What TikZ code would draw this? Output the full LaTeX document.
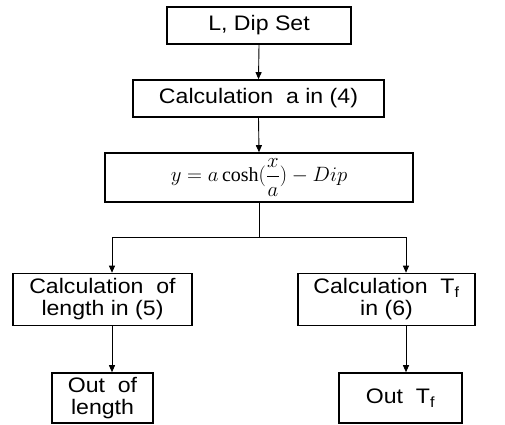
\documentclass[tikz,border=0pt]{standalone}
\usepackage{fontspec}
\setmainfont{Liberation Sans}[FakeStretch=1.1]
\newfontfamily\serifrm{Liberation Serif}
\usetikzlibrary{arrows.meta}
\begin{document}
\begin{tikzpicture}[x=1pt,y=-1pt,
  box/.style={draw, line width=1.6pt, inner sep=0pt, align=center,
    font=\fontsize{21}{22}\selectfont},
  conn/.style={line width=0.9pt},
  arr/.style={conn, -{Triangle[length=7pt,width=6pt]}}]
\useasboundingbox (0,0) rectangle (505,424);
\node[box, minimum width=184pt, minimum height=37pt] (b1) at (259,25.5) {L, Dip Set};
\node[box, minimum width=251pt, minimum height=37pt] (b2) at (258.5,98.5) {Calculation\ \ a in (4)};
\node[box, minimum width=308pt, minimum height=49pt, font=\fontsize{20}{22}\selectfont] (b3) at (259,177.5) {$\displaystyle y = a\,\hbox{\serifrm cosh}(\frac{x}{a}) - Dip$};
\node[box, minimum width=179pt, minimum height=52pt] (b4) at (102.5,299.5) {Calculation\ \ of\\length in (5)};
\node[box, minimum width=177pt, minimum height=52pt] (b5) at (386.5,299.5) {Calculation\ \ T\textsubscript{f}\\in (6)};
\node[box, minimum width=101pt, minimum height=50pt] (b6) at (102.5,398) {Out\ \ of\\length};
\node[box, minimum width=123pt, minimum height=50pt] (b7) at (400.5,398) {Out\ \ T\textsubscript{f}};
\coordinate (j) at (259,237);
\coordinate (jl) at (112,237);
\coordinate (jr) at (406,237);
\draw[arr] (b1.south) -- (b2.north);
\draw[arr] (b2.south) -- (b3.north);
\draw[conn] (b3.south) -- (j);
\draw[conn] (jl) -- (jr);
\draw[arr] (jl) -- (jl |- b4.north);
\draw[arr] (jr) -- (jr |- b5.north);
\draw[arr] (jl |- b4.south) -- (jl |- b6.north);
\draw[arr] (jr |- b5.south) -- (jr |- b7.north);
\end{tikzpicture}
\end{document}
